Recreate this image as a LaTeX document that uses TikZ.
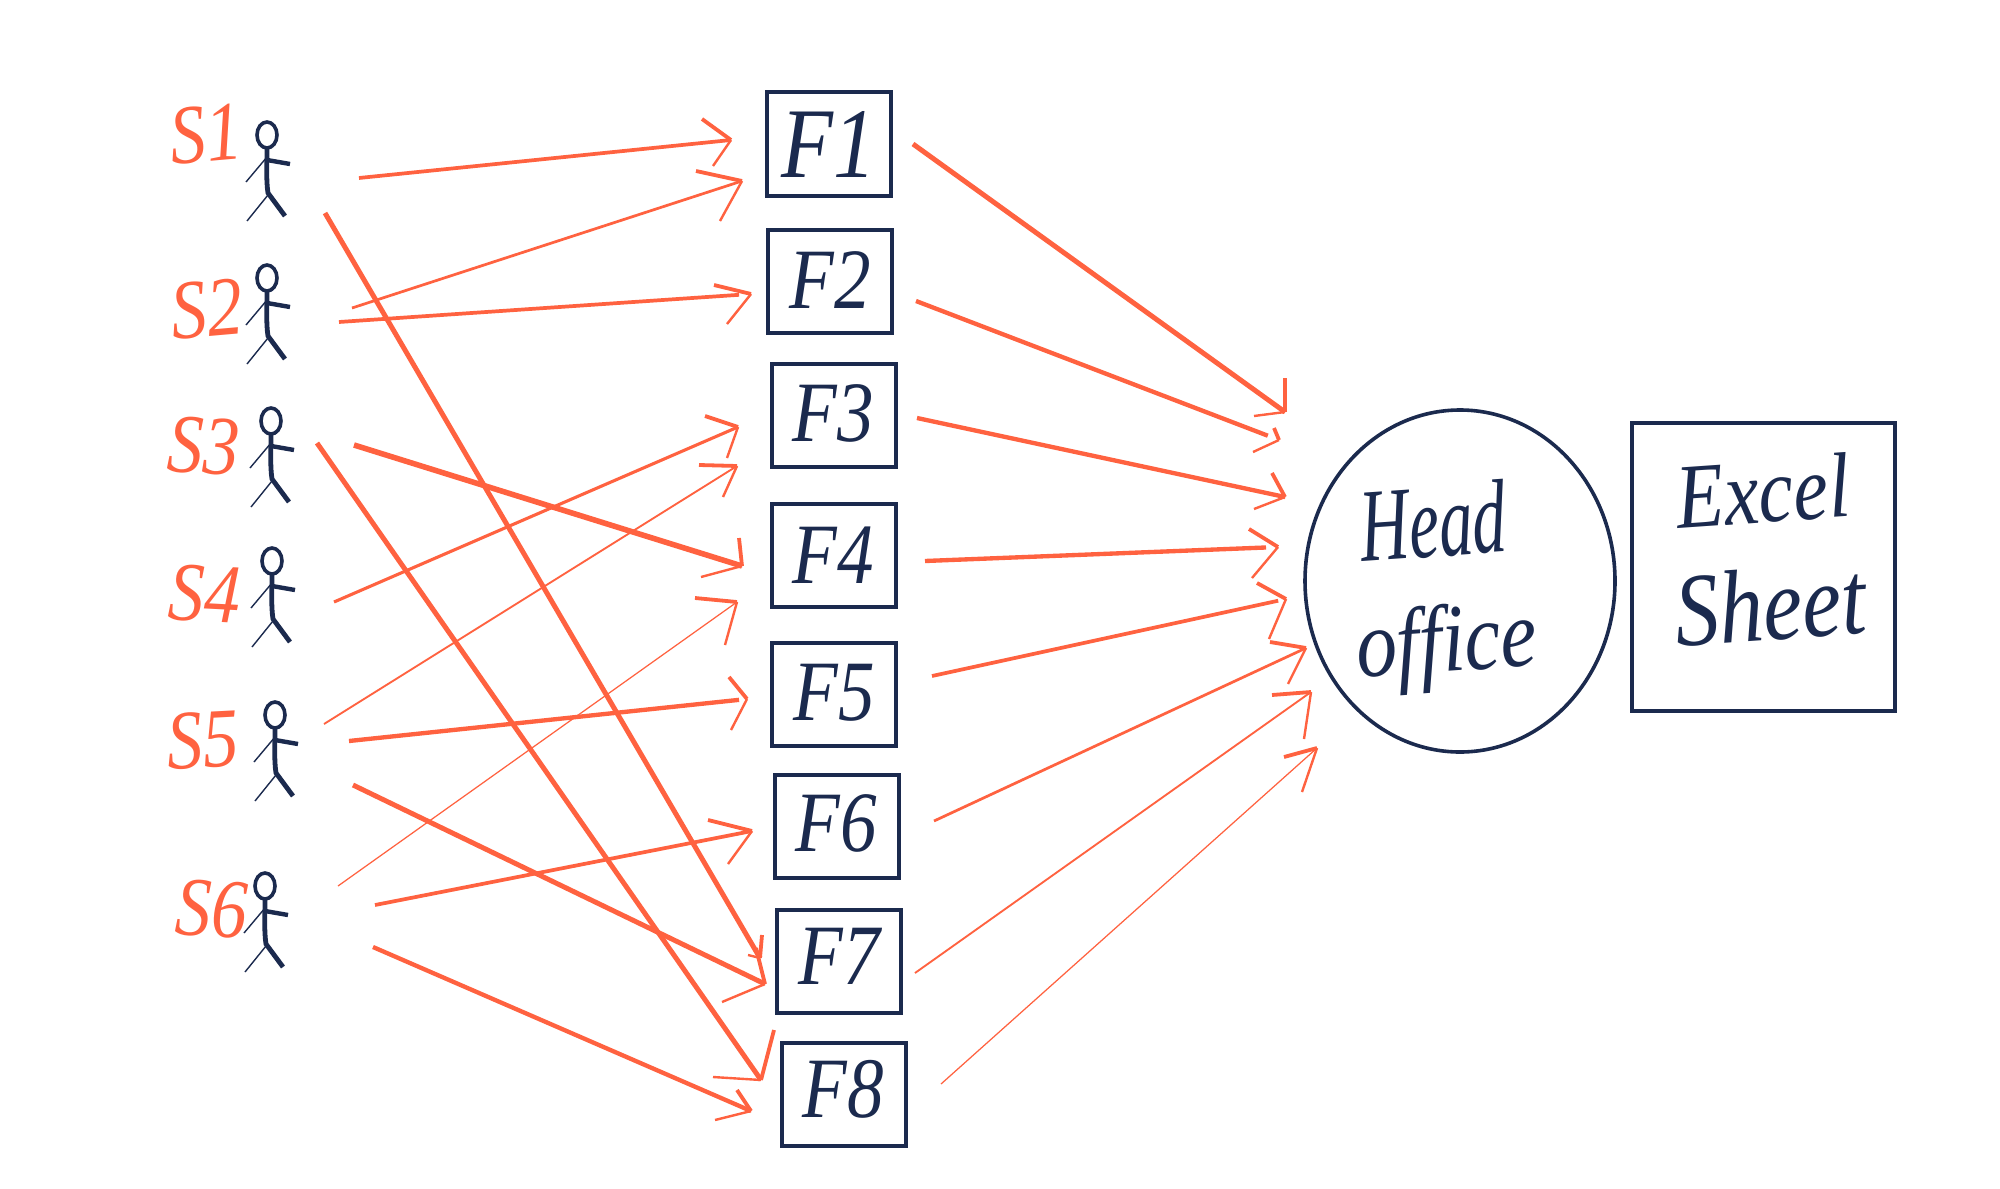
\documentclass[tikz,border=0pt]{standalone}
\usepackage{fontspec}
\usetikzlibrary{shapes.geometric}
\newfontfamily\handa[FakeStretch=0.85]{Liberation Serif}
\newfontfamily\handb[FakeStretch=0.65]{Liberation Serif}
\definecolor{ink}{HTML}{1B2A4E}
\definecolor{coral}{HTML}{FF6240}
\tikzset{
  x=0.5pt,y=-0.5pt,
  fbox/.style={draw=ink,line width=2pt,rectangle,minimum width=62pt,minimum height=51.5pt,inner sep=0pt,text=ink,font=\handa\itshape\fontsize{43}{43}\selectfont},
  slabel/.style={text=coral,inner sep=0pt,font=\handa\itshape\fontsize{42}{42}\selectfont},
  bigtext/.style={text=ink,inner sep=0pt,rotate=4},
  person/.pic={
    \draw[ink,line width=1.8pt] (0,0) ellipse [x radius=5pt,y radius=6.5pt];
    \draw[ink,line width=2.4pt] (0,13) .. controls (0,30) and (-1,45) .. (1,58) -- (18,81);
    \draw[ink,line width=2.2pt] (0,25) -- (23,29);
    \draw[ink,line width=0.7pt] (0,22) -- (-21,47);
    \draw[ink,line width=0.7pt] (1,60) -- (-20,86);
  }
}
% [line options], name, width(px), start, tip, head end a, head end b
\newcommand\conn[7][]{%
  \coordinate (#2s) at (#4);
  \coordinate (#2t) at (#5);
  \coordinate (#2a) at (#6);
  \coordinate (#2b) at (#7);
  \draw[coral,line width={#3*0.62pt},#1] (#2s) -- (#2t);
  \draw[coral,line width=1.9pt] (#2a) -- (#2t);
  \draw[coral,line width=1.2pt] (#2t) -- (#2b);
}
\begin{document}
\begin{tikzpicture}
\useasboundingbox (0,0) rectangle (2000,1188);
\fill[white] (0,0) rectangle (2000,1188);

% left-hand connectors
\conn{a}{3}{359,178}{731,140}{702,119}{713,166}
\conn{b}{2.2}{352,308}{742,181}{696,171}{720,221}
\conn[shorten >=6pt]{c}{3}{339,322}{751,294}{714,285}{727,324}
\conn{d}{4}{325,213}{760,958}{762,935}{748,955}
\conn{e}{4}{317,443}{761,1080}{774,1030}{713,1077}
\conn{f}{4.5}{354,445}{742,566}{739,538}{701,577}
\conn{g}{2.5}{334,602}{738,427}{705,416}{727,458}
\conn{h}{1.5}{324,724}{737,466}{699,465}{723,497}
\conn{i}{1}{338,886}{737,602}{695,598}{725,645}
\conn[shorten >=4pt]{j}{3.5}{349,741}{747,699}{729,677}{731,730}
\conn{k}{4}{353,785}{765,984}{756,948}{722,1002}
\conn{l}{3}{375,905}{752,831}{708,820}{728,864}
\conn{m}{3.5}{373,947}{751,1111}{737,1090}{715,1120}

% right-hand connectors
\conn{n}{4}{913,144}{1285,412}{1285,378}{1254,416}
\conn[shorten >=6pt]{o}{3.5}{916,301}{1279,440}{1274,428}{1253,452}
\conn{p}{3.5}{917,418}{1285,497}{1272,473}{1254,509}
\conn[shorten >=6pt]{q}{3.5}{925,561}{1278,547}{1249,529}{1252,578}
\conn[shorten >=4pt]{r}{3}{932,676}{1286,599}{1257,583}{1269,639}
\conn{u}{2.2}{934,821}{1306,648}{1270,642}{1288,684}
\conn{v}{1.5}{915,973}{1311,692}{1272,695}{1304,739}
\conn{w}{1}{941,1084}{1317,748}{1284,757}{1302,792}

% facility boxes
\node[fbox,font=\handa\itshape\fontsize{50}{50}\selectfont] (F1) at (829,144) {F1};
\node[fbox] (F2) at (830,281.5) {\raisebox{1pt}{F2}};
\node[fbox] (F3) at (833.5,415) {\raisebox{1.5pt}{F3}};
\node[fbox] (F4) at (833.5,555) {\raisebox{-2pt}{F4}};
\node[fbox] (F5) at (834,694.5) {\raisebox{2.5pt}{F5}};
\node[fbox] (F6) at (836.5,826.5) {\raisebox{3pt}{F6}};
\node[fbox] (F7) at (839,961.5) {\raisebox{5pt}{F7}};
\node[fbox] (F8) at (843.5,1094) {\raisebox{5pt}{F8}};

% head office
\node[draw=ink,line width=1.8pt,ellipse,minimum width=155pt,minimum height=171pt,inner sep=0pt] (HO) at (1460,581) {};
\node[bigtext,font=\handb\itshape\fontsize{52}{52}\selectfont] (HOa) at (1433,521) {Head};
\node[bigtext,font=\handa\itshape\fontsize{48}{48}\selectfont] (HOb) at (1447,648) {office};

% excel sheet
\node[draw=ink,line width=2pt,rectangle,minimum width=131.5pt,minimum height=144pt,inner sep=0pt] (XL) at (1763.5,567) {};
\node[bigtext,font=\handa\itshape\fontsize{46}{46}\selectfont] (XLa) at (1763,491) {Excel};
\node[bigtext,font=\handa\itshape\fontsize{52}{52}\selectfont] (XLb) at (1770,604) {Sheet};

% suppliers
\pic (P1) at (267,135) {person};
\pic (P2) at (267,278) {person};
\pic (P3) at (271,421) {person};
\pic (P4) at (272,561) {person};
\pic (P5) at (275,715) {person};
\pic (P6) at (265,886) {person};

\node[slabel,rotate=5] (S1) at (206,134) {S1};
\node[slabel,rotate=5] (S2) at (207,309) {S2};
\node[slabel,rotate=-3] (S3) at (204,446) {S3};
\node[slabel,rotate=-3] (S4) at (205,594) {S4};
\node[slabel,rotate=3] (S5) at (203,740) {S5};
\node[slabel,rotate=-3] (S6) at (212,909) {S6};
\end{tikzpicture}
\end{document}
